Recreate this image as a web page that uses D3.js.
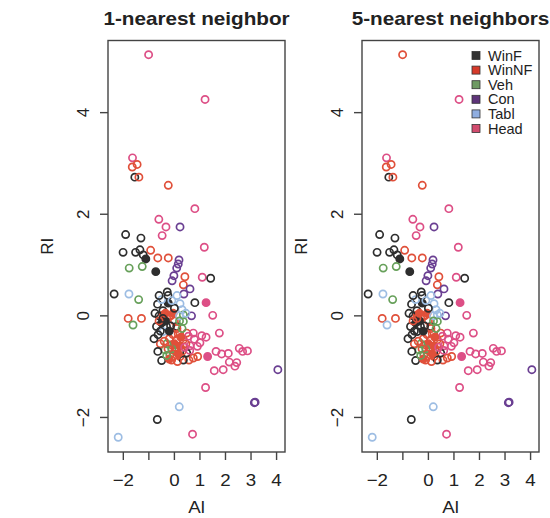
<!DOCTYPE html>
<html>
<head>
<meta charset="utf-8">
<script src="https://cdn.jsdelivr.net/npm/d3@7"></script>
<style>
  body { margin: 0; background: #fff; }
  text { font-family: "Liberation Sans", Arial, sans-serif; fill: #222; }
</style>
</head>
<body>
<div id="chart"></div>
<script>
// glass classes
const classNames = ['WinF', 'WinNF', 'Veh', 'Con', 'Tabl', 'Head'];
const ringColors = ['#2e2e2e', '#e0503a', '#67a05a', '#6a3f92', '#9dbde3', '#dd4f86'];
const legendColors = ['#333333', '#d63a2a', '#6e9a63', '#5e3479', '#90aee0', '#d24c6e'];

// standardized Al (x) and RI (y)
const al = [
  -1.01, 1.20, -1.64, -1.65, -1.46, -1.55, -1.39, -0.24, 0.80, -0.61,
  -0.33, 0.22, -0.48, -1.91, -1.31, 1.17, -2.01, -1.52, -1.35, -0.93,
  -1.22, -1.12, -0.65, -0.24, 0.18, 0.15, 0.09, -1.77, -1.26, -0.73,
  -0.02, -0.09, 0.41, 1.09, 1.42, 0.35, 0.61, 0.37, -2.36, -1.78,
  -1.40, -0.28, -0.66, -0.24, -0.50, 0.22, 0.80, 1.24, -1.81, -1.29,
  -1.62, 0.67, 1.50, 1.76, 1.07, 1.24, 1.00, 0.78, 0.61, 0.48,
  0.74, 2.54, 2.67, 2.86, 1.63, 1.85, 2.11, 1.30, 2.15, 2.44,
  2.37, 1.91, 1.56, 4.05, 0.91, 0.57, 1.22, 3.13, 3.16, 0.19,
  -0.67, -2.20, 0.71, -0.76, -0.44, -0.05, 0.30, 0.35, -0.50, -0.70,
  -0.31, -0.44, 0.09, 0.35, -0.64, -0.05, 0.09, 0.35, -0.11, 0.22,
  -0.37, -0.18, 0.22, 0.48, -0.50, -0.11, 0.35, 0.74, -0.30, -0.15,
  0.00, -0.20, 0.00, 0.15, 0.05, -0.05, 0.30, 0.10, -0.60, -0.35,
  -0.55, -0.20, 0.00, -0.45, -0.30, -0.10, 0.30, -0.35, -0.60, -0.25,
  0.15, 0.45, -0.40, 0.20, 0.45, 0.20, 0.55, 0.90, -0.55, -0.80,
  -0.25, -0.10, -0.60, 0.10, -0.15, 0.25, -0.45, 0.05, 0.40, -0.20,
  0.60, -0.30, 0.12, -0.65
];
const ri = [
  5.14, 4.26, 3.11, 2.93, 2.98, 2.73, 2.73, 2.57, 2.11, 1.90,
  1.75, 1.75, 1.58, 1.60, 1.53, 1.35, 1.25, 1.25, 1.30, 1.29,
  1.20, 1.12, 1.14, 1.14, 1.10, 1.02, 0.94, 0.94, 0.97, 0.87,
  0.79, 0.69, 0.77, 0.76, 0.74, 0.61, 0.53, 0.43, 0.43, 0.43,
  0.32, 0.47, 0.23, 0.25, 0.32, 0.24, 0.26, 0.26, -0.05, -0.05,
  -0.18, 0.00, 0.01, -0.34, -0.39, -0.42, -0.53, -0.46, -0.59, -0.34,
  -0.34, -0.64, -0.70, -0.69, -0.70, -0.75, -0.74, -0.80, -0.91, -0.92,
  -0.99, -1.06, -1.08, -1.06, -0.80, -0.87, -1.41, -1.71, -1.70, -1.79,
  -2.04, -2.39, -2.33, 0.05, 0.02, 0.05, 0.12, 0.02, -0.14, -0.21,
  -0.21, -0.31, -0.21, -0.11, -0.37, -0.37, -0.47, -0.47, -0.57, -0.60,
  -0.67, -0.77, -0.80, -0.73, -0.88, -0.87, -0.87, -0.83, -0.05, 0.00,
  -0.10, -0.45, -0.55, -0.35, -0.70, -0.80, -0.70, -0.25, 0.00, -0.10,
  -0.30, -0.30, 0.15, 0.10, -0.55, -0.65, -0.25, 0.05, -0.10, -0.65,
  -0.75, -0.55, -0.50, 0.00, 0.05, -0.10, -0.40, -0.60, -0.55, -0.45,
  0.40, 0.30, 0.40, 0.40, -0.20, -0.42, -0.05, -0.62, -0.62, -0.85,
  -0.68, -0.78, -0.90, -0.70
];
// predicted class index (into classNames) for each point
const pred1NN = [
  5, 5, 5, 1, 1, 0, 1, 1, 5, 5,
  5, 3, 5, 0, 0, 5, 0, 0, 0, 1,
  0, 0, 1, 1, 3, 3, 3, 2, 2, 0,
  3, 3, 1, 5, 0, 1, 3, 3, 0, 4,
  2, 0, 0, 0, 4, 4, 0, 5, 1, 1,
  2, 3, 5, 5, 5, 5, 5, 5, 5, 1,
  5, 5, 5, 5, 5, 5, 5, 5, 5, 5,
  5, 5, 5, 3, 1, 1, 5, 3, 3, 4,
  0, 4, 5, 0, 1, 1, 4, 2, 0, 0,
  0, 4, 0, 2, 0, 1, 1, 1, 1, 1,
  2, 2, 1, 0, 0, 1, 0, 1, 1, 1,
  1, 1, 1, 1, 1, 1, 1, 1, 0, 0,
  0, 0, 0, 0, 2, 2, 2, 1, 1, 1,
  1, 1, 1, 4, 4, 2, 5, 5, 1, 0,
  0, 4, 0, 4, 0, 1, 0, 1, 5, 1,
  5, 2, 1, 0
];
const pred5NN = [
  1, 5, 5, 1, 1, 0, 1, 1, 5, 5,
  5, 3, 5, 0, 0, 5, 0, 0, 0, 1,
  0, 0, 1, 1, 3, 3, 3, 2, 2, 0,
  3, 3, 1, 5, 0, 1, 3, 3, 0, 4,
  2, 0, 0, 0, 4, 4, 0, 5, 1, 1,
  4, 3, 5, 5, 5, 5, 5, 5, 5, 1,
  5, 5, 5, 5, 5, 5, 5, 5, 5, 5,
  5, 5, 5, 3, 1, 1, 5, 3, 3, 4,
  0, 4, 5, 0, 1, 1, 4, 4, 0, 0,
  0, 0, 0, 2, 0, 1, 1, 1, 1, 1,
  2, 2, 1, 0, 0, 1, 0, 1, 1, 1,
  1, 1, 1, 1, 1, 1, 1, 1, 0, 0,
  0, 0, 0, 0, 2, 2, 2, 1, 1, 1,
  1, 1, 1, 4, 4, 2, 5, 5, 1, 0,
  0, 4, 0, 4, 0, 1, 1, 1, 5, 1,
  5, 2, 1, 0
];
// indices of points drawn as solid dots
const solidPoints = [21, 29, 43, 47, 67, 84, 85, 88, 99, 112, 119, 121, 127, 130, 145, 149];

const xTicks = [-2, -1, 0, 1, 2, 3, 4];
const xTickLabels = ['\u22122', '', '0', '1', '2', '3', '4'];
const yTicks = [-2, 0, 2, 4];
const yTickLabels = ['\u22122', '0', '2', '4'];

const xDomain = [-2.6, 4.33];
const yDomain = [-2.68, 5.42];

const width = 550;
const height = 518;
const boxTop = 40.5;
const boxW = 177;
const boxH = 411.5;

const panels = [
    { title: '1-nearest neighbor', left: 108, pred: pred1NN, legend: false },
    { title: '5-nearest neighbors', left: 362, pred: pred5NN, legend: true }
];

const points = al.map((v, i) => ({ al: v, ri: ri[i], solid: solidPoints.includes(i) }));

const svg = d3.select('#chart')
    .append('svg')
    .attr('width', width)
    .attr('height', height);

const x = d3.scaleLinear().domain(xDomain).range([0, boxW]);
const y = d3.scaleLinear().domain(yDomain).range([boxH, 0]);

panels.forEach(p => {
    const cx = p.left + boxW / 2;

    // title
    svg.append('text')
        .attr('transform', `translate(${cx},25) scale(1.15,1)`)
        .attr('text-anchor', 'middle')
        .style('font-size', '18px')
        .style('font-weight', 'bold')
        .text(p.title);

    const g = svg.append('g').attr('transform', `translate(${p.left},${boxTop})`);

    // points
    g.selectAll('circle')
        .data(points)
        .enter()
        .append('circle')
        .attr('cx', d => x(d.al))
        .attr('cy', d => y(d.ri))
        .attr('r', 3.6)
        .attr('fill', (d, i) => d.solid ? ringColors[p.pred[i]] : 'none')
        .attr('stroke', (d, i) => ringColors[p.pred[i]])
        .attr('stroke-width', 1.7);

    // frame
    g.append('rect')
        .attr('width', boxW)
        .attr('height', boxH)
        .attr('fill', 'none')
        .attr('stroke', '#444')
        .attr('stroke-width', 1.4);

    // x axis
    const xa = g.append('g').attr('transform', `translate(0,${boxH})`);
    xa.selectAll('line')
        .data(xTicks)
        .enter()
        .append('line')
        .attr('x1', d => x(d)).attr('x2', d => x(d))
        .attr('y1', 0).attr('y2', 8)
        .attr('stroke', '#444').attr('stroke-width', 1.4);
    xa.selectAll('text')
        .data(xTicks)
        .enter()
        .append('text')
        .attr('transform', (d, i) => `translate(${x(d)},33.5) scale(1.1,1)`)
        .attr('text-anchor', 'middle')
        .style('font-size', '17px')
        .text((d, i) => xTickLabels[i]);

    // y axis
    const ya = g.append('g');
    ya.selectAll('line')
        .data(yTicks)
        .enter()
        .append('line')
        .attr('x1', 0).attr('x2', -8)
        .attr('y1', d => y(d)).attr('y2', d => y(d))
        .attr('stroke', '#444').attr('stroke-width', 1.4);
    ya.selectAll('text')
        .data(yTicks)
        .enter()
        .append('text')
        .attr('transform', d => `translate(-19,${y(d)}) rotate(-90)`)
        .attr('text-anchor', 'middle')
        .style('font-size', '17px')
        .text((d, i) => yTickLabels[i]);

    // axis titles
    svg.append('text')
        .attr('transform', `translate(${cx},513) scale(1.1,1)`)
        .attr('text-anchor', 'middle')
        .style('font-size', '17px')
        .text('Al');
    svg.append('text')
        .attr('transform', `translate(${p.left - 55},${boxTop + boxH / 2}) rotate(-90)`)
        .attr('text-anchor', 'middle')
        .style('font-size', '17px')
        .text('RI');

    if (p.legend) {
        const lg = g.append('g').attr('transform', 'translate(110,15)');
        const rows = lg.selectAll('g')
            .data(classNames)
            .enter()
            .append('g')
            .attr('transform', (d, i) => `translate(0,${i * 14.6})`);
        rows.append('rect')
            .attr('x', 0).attr('y', -4)
            .attr('width', 8).attr('height', 8)
            .attr('fill', (d, i) => legendColors[i])
            .attr('stroke', '#333').attr('stroke-width', 0.8);
        rows.append('text')
            .attr('x', 16).attr('y', 5)
            .style('font-size', '14.5px')
            .text(d => d);
    }
});
</script>
</body>
</html>
